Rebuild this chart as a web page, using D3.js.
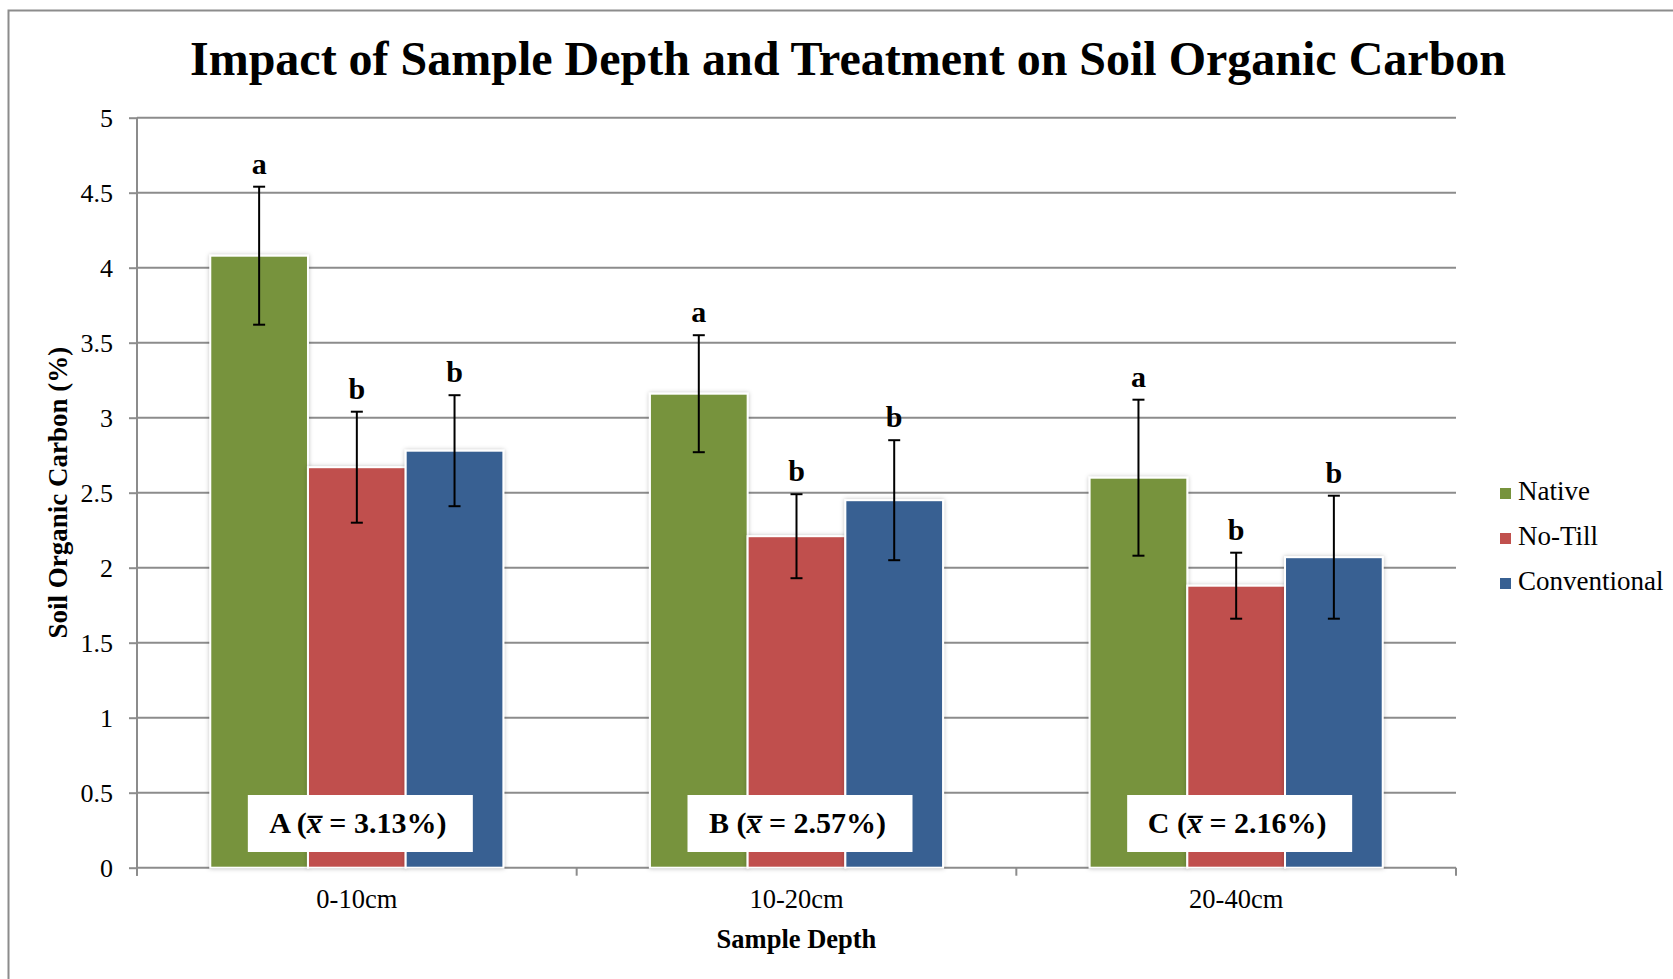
<!DOCTYPE html>
<html><head><meta charset="utf-8">
<script src="https://cdn.jsdelivr.net/npm/d3@7"></script>
<style>body{margin:0;background:#fff}svg{display:block}text{font-family:"Liberation Serif","Times New Roman",serif}</style>
</head><body>
<svg id="c" width="1673" height="979"></svg>
<script>
const categories = ["0-10cm", "10-20cm", "20-40cm"];
const series = ["Native", "No-Till", "Conventional"];
const colors = ["#77933C", "#C0504D", "#376092"];
const nativeVals = [4.08, 3.16, 2.60];
const noTillVals = [2.67, 2.21, 1.88];
const convVals = [2.78, 2.45, 2.07];
const nativeErr = [0.46, 0.39, 0.52];
const noTillErr = [0.37, 0.28, 0.22];
const convErr = [0.37, 0.40, 0.41];
const nativeLetters = ["a", "a", "a"];
const noTillLetters = ["b", "b", "b"];
const convLetters = ["b", "b", "b"];
const groupLabels = ["A", "B", "C"];
const groupMeans = ["3.13%", "2.57%", "2.16%"];
const yTicks = [0, 0.5, 1, 1.5, 2, 2.5, 3, 3.5, 4, 4.5, 5];

const vals = [nativeVals, noTillVals, convVals];
const errs = [nativeErr, noTillErr, convErr];
const letters = [nativeLetters, noTillLetters, convLetters];

const svg = d3.select("#c");
const L = 137, R = 1456, T = 117.7, B = 867.7;
const grid = "#8c8c8c";

// outer border
svg.append("rect").attr("x", 8.5).attr("y", 10.5).attr("width", 1700).attr("height", 1000)
  .attr("fill", "none").attr("stroke", grid).attr("stroke-width", 2);

const defs = svg.append("defs");
const f = defs.append("filter").attr("id", "sh").attr("x", "-10%").attr("y", "-10%").attr("width", "120%").attr("height", "120%");
f.append("feDropShadow").attr("dx", 0).attr("dy", 0).attr("stdDeviation", 2).attr("flood-color", "#000").attr("flood-opacity", 0.25);

const y = d3.scaleLinear().domain([0, 5]).range([B, T]);
const x0 = d3.scaleBand().domain(categories).range([L, R]).padding(0);
const bw = x0.bandwidth();
const groupW = bw * 3 / 4.5;
const x1 = d3.scaleBand().domain(series).range([(bw - groupW) / 2, (bw + groupW) / 2]).padding(0);

// title
svg.append("text").attr("x", 848).attr("y", 75).attr("text-anchor", "middle")
  .attr("font-size", 48).attr("font-weight", "bold").text("Impact of Sample Depth and Treatment on Soil Organic Carbon");

// y axis with gridlines
const yAxis = d3.axisLeft(y).tickValues(yTicks).tickSize(8).tickPadding(16).tickFormat(d => String(d));
const gy = svg.append("g").attr("transform", `translate(${L},0)`).call(yAxis);
gy.select(".domain").remove();
gy.selectAll(".tick line").attr("stroke", grid).attr("stroke-width", 2);
gy.selectAll(".tick text").attr("font-size", 26).attr("font-family", "Liberation Serif, serif").attr("fill", "#000");
svg.append("g").selectAll("line").data(yTicks).join("line")
  .attr("x1", L).attr("x2", R).attr("y1", d => y(d)).attr("y2", d => y(d))
  .attr("stroke", grid).attr("stroke-width", 2);
svg.append("line").attr("x1", L).attr("x2", L).attr("y1", T).attr("y2", B + 8).attr("stroke", grid).attr("stroke-width", 2);

// x axis boundary ticks
const bounds = categories.map(c => x0(c)).concat([R]);
svg.append("g").selectAll("line").data(bounds).join("line")
  .attr("x1", d => d).attr("x2", d => d).attr("y1", B).attr("y2", B + 8)
  .attr("stroke", grid).attr("stroke-width", 2);

// bars
const barData = [];
series.forEach((s, si) => categories.forEach((c, ci) => barData.push({s, si, c, ci, v: vals[si][ci], e: errs[si][ci], l: letters[si][ci]})));
const bx = d => x0(d.c) + x1(d.s);
const bwid = x1.bandwidth();
svg.append("g").selectAll("rect").data(barData).join("rect")
  .attr("x", bx).attr("width", bwid).attr("y", d => y(d.v)).attr("height", d => B - y(d.v))
  .attr("fill", d => colors[d.si]).attr("stroke", "#fff").attr("stroke-width", 2).attr("filter", "url(#sh)");

// mean boxes
categories.forEach((c, ci) => {
  const cx = x0(c) + bw / 2 + 3;
  svg.append("rect").attr("x", cx - 112).attr("y", 795).attr("width", 225).attr("height", 57).attr("fill", "#fff");
  const t = svg.append("text").attr("x", cx - 2).attr("y", 833).attr("text-anchor", "middle")
    .attr("font-size", 30).attr("font-weight", "bold");
  t.append("tspan").text(groupLabels[ci] + " (");
  t.append("tspan").attr("font-style", "italic").text("x\u0305");
  t.append("tspan").text(" = " + groupMeans[ci] + ")");
});

// error bars
const eg = svg.append("g").attr("stroke", "#000").attr("stroke-width", 2);
barData.forEach(d => {
  const cx = bx(d) + bwid / 2;
  eg.append("line").attr("x1", cx).attr("x2", cx).attr("y1", y(d.v + d.e)).attr("y2", y(d.v - d.e));
  eg.append("line").attr("x1", cx - 6).attr("x2", cx + 6).attr("y1", y(d.v + d.e)).attr("y2", y(d.v + d.e));
  eg.append("line").attr("x1", cx - 6).attr("x2", cx + 6).attr("y1", y(d.v - d.e)).attr("y2", y(d.v - d.e));
});
// letters
svg.append("g").selectAll("text").data(barData).join("text")
  .attr("x", d => bx(d) + bwid / 2).attr("y", d => y(d.v + d.e) - 13)
  .attr("text-anchor", "middle").attr("font-size", 30).attr("font-weight", "bold").text(d => d.l);

// x labels
svg.append("g").selectAll("text").data(categories).join("text")
  .attr("x", d => x0(d) + bw / 2).attr("y", 908).attr("text-anchor", "middle").attr("font-size", 26.5).text(d => d);

svg.append("text").attr("x", (L + R) / 2).attr("y", 948).attr("text-anchor", "middle")
  .attr("font-size", 26.5).attr("font-weight", "bold").text("Sample Depth");
svg.append("text").attr("transform", `translate(67,${(T + B) / 2}) rotate(-90)`).attr("text-anchor", "middle")
  .attr("font-size", 27).attr("font-weight", "bold").text("Soil Organic Carbon (%)");

// legend
const lg = svg.append("g").selectAll("g").data(series).join("g")
  .attr("transform", (d, i) => `translate(1500,${500 + i * 45})`);
lg.append("rect").attr("x", 0).attr("y", -12).attr("width", 11).attr("height", 11).attr("fill", (d, i) => colors[i]);
lg.append("text").attr("x", 18).attr("y", 0).attr("font-size", 27).text(d => d);
</script>
</body></html>
